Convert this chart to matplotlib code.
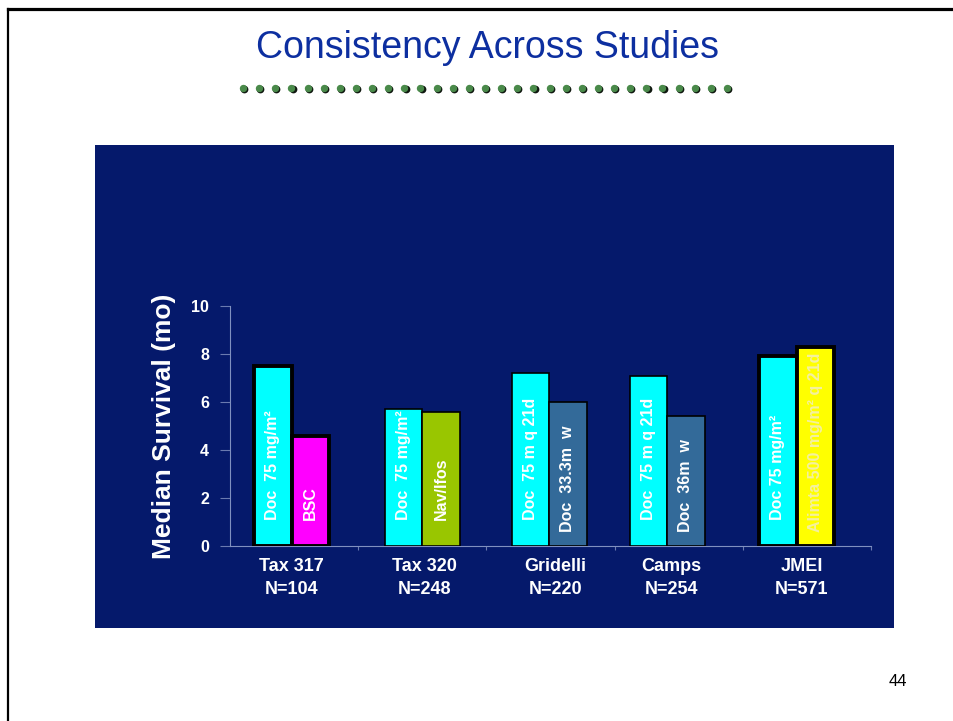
import numpy as np
import matplotlib
matplotlib.use("Agg")
import matplotlib.pyplot as plt
from matplotlib.patches import Rectangle
from matplotlib.lines import Line2D

plt.rcParams["font.family"] = ["Liberation Sans", "DejaVu Sans"]

# median survival (months), two arms per study
studies = ["Tax 317\nN=104", "Tax 320\nN=248", "Gridelli\nN=220", "Camps\nN=254", "JMEI\nN=571"]
arm1 = [7.5, 5.7, 7.2, 7.1, 7.9]
arm2 = [4.6, 5.6, 6.0, 5.4, 8.3]
arm1_txt = ["Doc  75 mg/m²", "Doc  75 mg/m²", "Doc  75 m q 21d", "Doc  75 m q 21d", "Doc 75 mg/m²"]
arm2_txt = ["BSC", "Nav/Ifos", "Doc  33.3m  w", "Doc  36m  w", "Alimta 500 mg/m² q 21d"]
arm2_col = ["#ff00ff", "#99c600", "#336a99", "#336a99", "#ffff00"]
yticks = [0, 2, 4, 6, 8, 10]

navy = "#05196b"
W, H = 954, 721
fig = plt.figure(figsize=(W / 100, H / 100), dpi=100)
fig.patch.set_facecolor("white")

# slide frame (top + left rule)
fig.add_artist(Line2D([8 / W, 1], [1 - 9 / H, 1 - 9 / H], color="black", lw=2.3))
fig.add_artist(Line2D([8 / W, 8 / W], [0, 1 - 9 / H], color="black", lw=1.6))

fig.text(488 / W, 1 - 48 / H, "Consistency Across Studies", ha="center", va="center",
         fontsize=27, color="#0d2fa0")

# dotted divider
dx = np.linspace(243, 727, 31)
fig.add_artist(Line2D((dx + 1.2) / W, np.full(31, 1 - 89.2 / H), ls="none", marker="o",
                      ms=5.6, mfc="#101810", mec="none"))
fig.add_artist(Line2D(dx / W, np.full(31, 1 - 88 / H), ls="none", marker="o",
                      ms=5.3, mfc="#4a8a4a", mec="none"))

fig.text(898 / W, 1 - 681 / H, "44", ha="center", va="center", fontsize=12)

# navy panel behind the chart
fig.add_artist(Rectangle((95 / W, 1 - 628 / H), 799 / W, 483 / H,
                         transform=fig.transFigure, facecolor=navy, edgecolor="none", zorder=0))

ax = fig.add_axes([230 / W, 1 - 546 / H, 641 / W, 240 / H])
ax.set_facecolor(navy)
ax.patch.set_alpha(0)

shift = np.array([-0.02, 0.0, -0.01, -0.09, -0.08])
xc = np.arange(len(studies)) + shift
bw = 0.293
edge_w = [2.8, 1.2, 1.2, 1.2, 2.8]

ax.bar(xc - bw / 2, arm1, bw, color="#00ffff", edgecolor="black", linewidth=edge_w, zorder=3)
ax.bar(xc + bw / 2, arm2, bw, color=arm2_col, edgecolor="black", linewidth=edge_w, zorder=3)

for i in range(len(studies)):
    ax.text(xc[i] - bw / 2, 1.1, arm1_txt[i], rotation=90, ha="center", va="bottom",
            color="white", fontsize=11.5, fontweight="bold", zorder=4)
    c2 = "#f4f0a0" if arm2_col[i] == "#ffff00" else "white"
    ax.text(xc[i] + bw / 2, 1.1 if i < 2 else 0.6, arm2_txt[i], rotation=90, ha="center",
            va="bottom", color=c2, fontsize=11.5, fontweight="bold", zorder=4)

ax.set_xlim(-0.5, 4.5)
ax.set_ylim(0, 10)
ax.set_yticks(yticks)
ax.set_yticklabels([str(v) for v in yticks], color="white", fontsize=11.5, fontweight="bold")
ax.set_xticks(np.arange(len(studies)) + 0.5)
ax.set_xticklabels([])
ax.tick_params(axis="y", length=7, color="#6a7ab0", pad=8)
ax.tick_params(axis="x", length=3, color="#6a7ab0", direction="out")
for s in ["top", "right"]:
    ax.spines[s].set_visible(False)
ax.spines["left"].set_color("#8090c0")
ax.spines["bottom"].set_color("#8090c0")

label_x = [-0.02, 1.02, 2.04, 2.94, 3.96]
for lx, lab in zip(label_x, studies):
    ax.text(lx, -0.5, lab, ha="center", va="top", color="white", fontsize=13,
            fontweight="bold", linespacing=1.45)

ax.set_ylabel("Median Survival (mo)", color="white", fontsize=19, fontweight="bold",
              labelpad=11)

fig.savefig("out.png", dpi=100, facecolor="white")
